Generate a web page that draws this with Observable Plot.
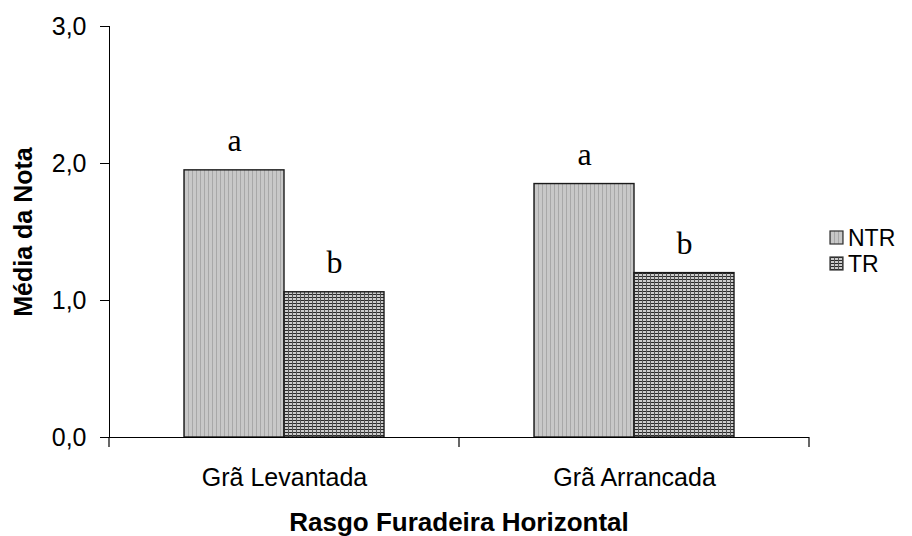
<!DOCTYPE html>
<html>
<head>
<meta charset="utf-8">
<script src="https://cdn.jsdelivr.net/npm/d3@7"></script>
<script src="https://cdn.jsdelivr.net/npm/@observablehq/plot@0.6"></script>
<style>
  html, body { margin: 0; padding: 0; background: #fff; }
  #chart { width: 912px; height: 536px; position: relative; font-family: "Liberation Sans", Arial, sans-serif; }
  #xtitle { position: absolute; left: 0; width: 918px; top: 507px; text-align: center; font-weight: bold; font-size: 26px; line-height: 30px; color: #000; }
</style>
</head>
<body>
<div id="chart"></div>
<script>
// Categories, treatments and the mean score for each bar
const categories = ["Grã Levantada", "Grã Arrancada"];
const treatments = ["NTR", "TR"];
const ntrValues = [1.95, 1.85];
const trValues = [1.06, 1.20];
// Significance letters drawn above each bar
const ntrLetters = ["a", "a"];
const trLetters = ["b", "b"];
// Y-axis ticks and their comma-decimal labels
const yTicks = [0, 1, 2, 3];
const yTickLabels = ["0,0", "1,0", "2,0", "3,0"];
const xTitle = "Rasgo Furadeira Horizontal";
const yTitle = "Média da Nota";

const rows = categories.flatMap((c, i) => [
  {category: c, treatment: treatments[0], value: ntrValues[i], letter: ntrLetters[i]},
  {category: c, treatment: treatments[1], value: trValues[i], letter: trLetters[i]}
]);

const chart = Plot.plot({
  width: 912,
  height: 506,
  marginLeft: 109,
  marginRight: 103,
  marginTop: 26,
  marginBottom: 69,
  style: {fontFamily: "'Liberation Sans', Arial, sans-serif", fontSize: "25px", color: "#000", background: "#fff", overflow: "visible"},
  facet: {data: rows, x: "category"},
  fx: {domain: categories, padding: 0, axis: "bottom", label: null, tickSize: 0, tickPadding: 31},
  x: {domain: treatments, axis: null, paddingInner: 0, paddingOuter: 0.7475, align: 0.5},
  y: {
    domain: [0, 3],
    ticks: yTicks,
    tickFormat: d => yTickLabels[yTicks.indexOf(d)],
    tickSize: 9,
    tickPadding: 14,
    line: true,
    label: yTitle,
    labelAnchor: "center",
    labelArrow: false,
    labelOffset: 95
  },
  color: {domain: treatments, range: ["url(#pat-ntr)", "url(#pat-tr)"]},
  marks: [
    Plot.barY(rows, {x: "treatment", y: "value", fill: "treatment", stroke: "#1a1a1a", strokeWidth: 1.4}),
    Plot.text(rows, {x: "treatment", y: "value", text: "letter", lineAnchor: "bottom", dy: -19,
      fontFamily: "'Liberation Serif', 'Times New Roman', serif", fontSize: 32, fill: "#000"}),
    Plot.ruleY([0], {stroke: "#000", strokeWidth: 1.2})
  ]
});

const svg = d3.select(chart);

// Fill patterns: fine vertical stripes (NTR) and a dark small grid (TR)
const defs = svg.insert("defs", ":first-child");
const pNtr = defs.append("pattern").attr("id", "pat-ntr").attr("patternUnits", "userSpaceOnUse")
  .attr("width", 4).attr("height", 4);
pNtr.append("rect").attr("width", 4).attr("height", 4).attr("fill", "#c8c8c8");
pNtr.append("rect").attr("width", 1).attr("height", 4).attr("fill", "#a8a8a8");
const pTr = defs.append("pattern").attr("id", "pat-tr").attr("patternUnits", "userSpaceOnUse")
  .attr("width", 4).attr("height", 3);
pTr.append("rect").attr("width", 4).attr("height", 3).attr("fill", "#cccccc");
pTr.append("rect").attr("width", 4).attr("height", 1).attr("fill", "#2a2a2a");
pTr.append("rect").attr("width", 1).attr("height", 3).attr("fill", "#555555");

// Bold axis title
svg.selectAll("text").filter(function () { return this.textContent === yTitle; })
  .attr("font-weight", "bold").attr("font-size", 25);

// Category separator ticks at the facet band edges
const fx = chart.scale("fx");
const ys = chart.scale("y");
const y0 = ys.range[0];
const n = fx.domain.length;
const step = fx.step || (fx.range[1] - fx.range[0]) / n;
const g = svg.append("g").attr("stroke", "#000").attr("stroke-width", 1.2);
for (let i = 0; i <= n; i++) {
  const xx = fx.range[0] + i * step;
  g.append("line").attr("x1", xx).attr("x2", xx).attr("y1", y0).attr("y2", y0 + 10);
}

// Legend on the right
const color = chart.scale("color");
const lg = svg.append("g").attr("transform", `translate(830,${ys.range[1] + 205})`);
color.domain.forEach((t, i) => {
  const row = lg.append("g").attr("transform", `translate(0,${i * 26})`);
  row.append("rect").attr("width", 13).attr("height", 13).attr("fill", color.range[i])
    .attr("stroke", "#333").attr("stroke-width", 1.2);
  row.append("text").attr("x", 18).attr("y", 6.5).attr("dy", "0.35em").attr("text-anchor", "start")
    .attr("font-size", 23).attr("fill", "#000").text(t);
});

const root = document.getElementById("chart");
root.appendChild(chart);
const title = document.createElement("div");
title.id = "xtitle";
title.textContent = xTitle;
root.appendChild(title);
</script>
</body>
</html>
